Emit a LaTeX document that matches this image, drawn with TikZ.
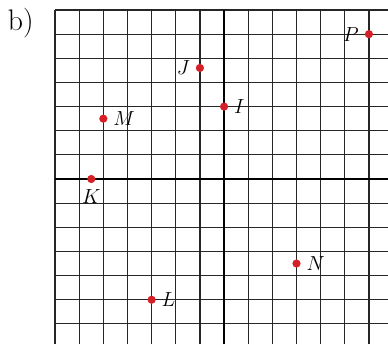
\documentclass[tikz,border=0pt]{standalone}
\usepackage{amsmath,amssymb}
\usepackage{tikz}
\usepackage{xcolor}
\definecolor{dotred}{HTML}{D42128}
\definecolor{gridgray}{HTML}{262626}

\begin{document}
\begin{tikzpicture}[x=0.6cm,y=0.6cm,font=\fontsize{13.5}{16}\selectfont,
    pt/.style={circle,fill=dotred,inner sep=0pt,minimum size=5.8pt},
    lbl/.style={label distance=0.5pt},
    gridline/.style={gridgray,line width=0.85pt},
    axis/.style={black,line width=1.6pt}]
  \useasboundingbox (-9.28,-6.835) rectangle (6.79,7.415);
  % grid, cut off at the right and bottom edges
  \foreach \x in {-7,...,6}
    \draw[gridline] (\x,-6.835) -- (\x,7);
  \foreach \y in {-6,...,7}
    \draw[gridline] (-7,\y) -- (6.79,\y);
  \draw[axis] (-7,0) -- (6.79,0);
  \draw[axis] (0,-6.835) -- (0,7);
  \node[font=\fontsize{21}{24}\selectfont] (tag) at (-8.42,6.45) {b)};
  % points
  \node[pt,label={[lbl]left:$P$}]  (P) at (6,6) {};
  \node[pt,label={[lbl]left:$J$}]  (J) at (-1,4.6) {};
  \node[pt,label={[lbl]right:$I$}] (I) at (0,3) {};
  \node[pt,label={[lbl]right:$M$}] (M) at (-5,2.5) {};
  \node[pt,label={[lbl]below:$K$}] (K) at (-5.5,0) {};
  \node[pt,label={[lbl]right:$N$}] (N) at (3,-3.5) {};
  \node[pt,label={[lbl]right:$L$}] (L) at (-3,-5) {};
\end{tikzpicture}
\end{document}
